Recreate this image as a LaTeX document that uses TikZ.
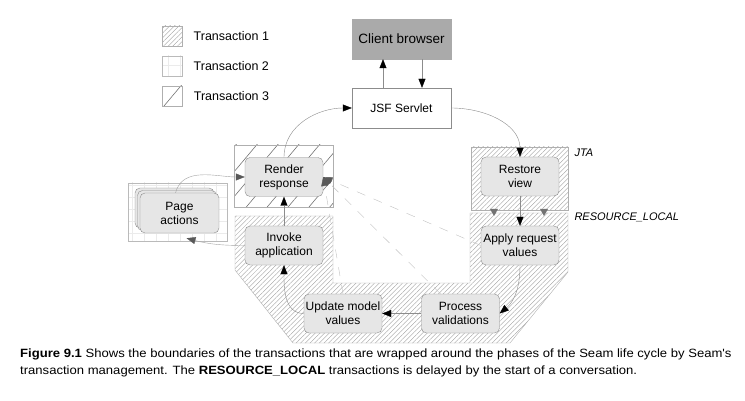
\documentclass[tikz,border=0pt]{standalone}
\usepackage{fontspec}
\setmainfont{Liberation Sans}
\newfontfamily\capfont[FakeStretch=1.09]{Liberation Sans}
\usetikzlibrary{arrows.meta,patterns.meta,positioning,shadows}
\definecolor{phasefill}{HTML}{E6E6E6}
\definecolor{edgegray}{HTML}{8C8C8C}
\definecolor{hatchgray}{HTML}{9A9A9A}
\definecolor{browsergray}{HTML}{AAAAAA}
\newcommand{\phase}[3]{%
 \node[phase] ({#1}) at ({#2}) {#3};%
}
\tikzset{
 phase/.style={draw=edgegray, fill=phasefill, rounded corners=5pt, minimum width=78pt,
   minimum height=39pt, align=center, inner sep=1pt, font=\fontsize{12}{14}\selectfont},
 plain/.style={draw=edgegray, fill=white, minimum width=99pt, minimum height=40pt,
   font=\fontsize{12}{14}\selectfont},
 txone/.style={draw=edgegray!70, pattern={Lines[angle=45,distance=3.3pt,line width=.35pt]}, pattern color=hatchgray},
 txtwo/.style={draw=edgegray!60, pattern={Hatch[angle=0,distance=12pt,line width=.3pt]}, pattern color=black!8},
 txthree/.style={draw=edgegray!70, pattern={Lines[angle=50,distance=16pt,line width=.6pt]}, pattern color=black!55},
 key/.style={minimum size=20pt, inner sep=0pt},
 keytext/.style={right=8pt of #1, font=\fontsize{12.5}{14}\selectfont},
 flow/.style={draw=edgegray, line width=.4pt, -{Triangle[length=9pt,width=7pt,color=black]}},
 sideflow/.style={draw=edgegray!80, line width=.4pt, -{Triangle[length=9pt,width=7pt,color=black!65]}},
 hint/.style={sideflow, draw=edgegray!55, dash pattern=on 9pt off 9pt},
}
\begin{document}
\begin{tikzpicture}[x=1pt,y=-1pt]
  \useasboundingbox (0,0) rectangle (745,401);
  % legend
  \node[key, txone] (keyone) at (172,36) {};
  \node[key, txtwo] (keytwo) at (172,66) {};
  \node[key, txthree] (keythree) at (172,96) {};
  \node[keytext=keyone] {Transaction 1};
  \node[keytext=keytwo] {Transaction 2};
  \node[keytext=keythree] {Transaction 3};
  % transaction regions
  \path[txthree] (234,145) rectangle (333,207);
  \path[txone] (471,147) rectangle (568,210);
  \path[txone] (235,216) -- (333,216) -- (333,283) -- (470,283) -- (470,213) -- (568,213)
    -- (568,272) -- (510,343) -- (293,343) -- (235,270) -- cycle;
  \path[txtwo] (128,183) rectangle (227,241);
  \node[font=\itshape\fontsize{11}{13}\selectfont, anchor=west] (jta) at (571,153) {JTA};
  \node[font=\itshape\fontsize{11}{13}\selectfont, anchor=west] (local) at (571,217) {RESOURCE\_LOCAL};
  \foreach \x in {494,544}
    \fill[black!55] (\x-4,209) -- (\x+4,209) -- (\x,216) -- cycle;
  % servlet and browser
  \node[plain, fill=browsergray, draw=browsergray, font=\fontsize{13.5}{15}\selectfont] (client) at (401.5,39) {Client browser};
  \node[plain] (servlet) at (401.5,108) {JSF Servlet};
  % phases
  \phase{render}{284,177}{Render\\response};
  \phase{restore}{520,176.5}{Restore\\view};
  \phase{invoke}{284,245.5}{Invoke\\application};
  \phase{apply}{520,245.5}{Apply request\\values};
  \phase{update}{343,313.5}{Update model\\values};
  \phase{process}{460.5,313.5}{Process\\validations};
  \node[phase, minimum width=79pt, minimum height=40pt,
    double copy shadow={shadow xshift=-2.5pt, shadow yshift=2.5pt, fill=phasefill, draw=edgegray}] (pages) at (179.5,213) {Page\\actions};
  % request cycle
  \draw[flow] ([xshift=-18.5pt]servlet.north) -- ([xshift=-18.5pt]client.south);
  \draw[flow] ([xshift=20.5pt]client.south) -- ([xshift=20.5pt]servlet.north);
  \draw[flow] (servlet.east) to[out=0,in=90] (restore.north);
  \draw[flow] (restore.south) -- (apply.north);
  \draw[flow] (apply.south) to[out=-90,in=40] (process.east);
  \draw[flow] (process.west) -- (update.east);
  \draw[flow] (update.west) to[out=180,in=-90] (invoke.south);
  \draw[flow] (invoke.north) -- (render.south);
  \draw[flow] (render.north) to[out=90,in=180] (servlet.west);
  % page actions
  \draw[sideflow] (invoke.west) to[out=180,in=-15] ([xshift=7pt,yshift=-5pt]pages.south);
  \draw[sideflow] ([xshift=-4pt]pages.north) to[out=75,in=180] (render.west);
  % shortcuts to render response
  \draw[hint] (apply.west) -- (render.east);
  \draw[hint] ([xshift=-20pt]process.north) -- (render.east);
  \draw[hint] (update.north) -- (render.east);
  % caption
  \node[anchor=north west, align=left, inner sep=0pt, font=\capfont\fontsize{12}{17}\selectfont] (caption) at (20,349)
    {\textbf{Figure 9.1} Shows the boundaries of the transactions that are wrapped around the phases of the Seam life cycle by Seam's\\
     transaction management. The \textbf{RESOURCE\_LOCAL} transactions is delayed by the start of a conversation.};
\end{tikzpicture}
\end{document}
